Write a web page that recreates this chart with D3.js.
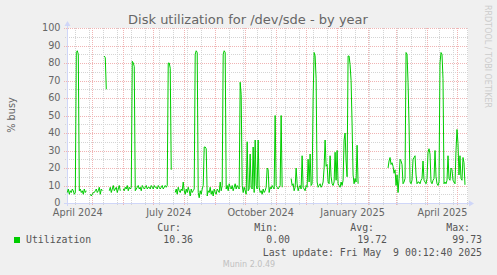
<!DOCTYPE html>
<html>
<head>
<meta charset="utf-8">
<script src="https://cdnjs.cloudflare.com/ajax/libs/d3/7.8.5/d3.min.js"></script>
<style>
html, body { margin: 0; padding: 0; background: #f0f0f0; }
svg { display: block; font-family: "DejaVu Sans", sans-serif; }
.mono { font-family: "DejaVu Sans Mono", monospace; white-space: pre; }
</style>
</head>
<body>
<svg width="497" height="275"></svg>
<script>
(function() {

var title = "Disk utilization for /dev/sde - by year";
var yLabel = "% busy";
var seriesName = "Utilization";
var legendHeads = ["Cur:", "Min:", "Avg:", "Max:"];
var legendValues = ["10.36", "0.00", "19.72", "99.73"];
var lastUpdate = "Last update: Fri May  9 00:12:40 2025";
var footer = "Munin 2.0.49";
var watermark = "RRDTOOL / TOBI OETIKER";

var yTicks = [0, 10, 20, 30, 40, 50, 60, 70, 80, 90, 100];
var labelMonths = ["2024-04", "2024-07", "2024-10", "2025-01", "2025-04"];

// one value per day, first day 2024-04-06, null = no data
var firstDay = "2024-04-06";
var busy = [
  6, 8, 5, 7, 6, 8, 7, 5, 6, 86, 87, 85, 7, 8, 6, 7, 5, 8, 6, 7,
  null, null, null,
  5, 4, 5, 6, 6, 7, 8, 6, 7, 9, 5, 8, 7,
  null, 84, 83, 65, null, null,
  7, 9, 6, 8, 10, 7, 8, 9, 6, 8, 10, 7,
  null, null,
  8, 7, 9, 8, 10, 7, 9, 8, 9, 81, 80, 78,
  7, 8, 9, 10, 8, 9, 7, 10, 9, 8, 9, 10, 8, 9, 9, 8, 10, 9, 8, 10,
  9, 9, 8, 10, 9, 8, 9, 10, 8, 9, 10, 9, 10,
  80, 80, 77, 19,
  null, null, null,
  6, 8, 5, 9, 7, 6, 8, 7, 12, 7, 5, 8, 6, 9, 7, 4, 8, 6, 7, 8,
  85, 87, 86, 6, 3, 7, 5, 8, 10, 32, 32, 31,
  4, 7, 6, 9, 5, 7, 4, 8, 6, 5, 8, 7, 6, 12, 7, 10,
  85, 87, 86, 8, 10, 7, 11, 9, 8, 10, 7, 9, 11, 8, 10, 9, 8,
  69, 62, 10,
  6, 9, 7, 5, 35, 7, 8, 28, 9, 8, 32, 6, 36, 10, 8, 36, 9, 6,
  7, 5, 8, 6, 7, 9, 20, 19, 6, 9, 8, 10, 9, 8, 50, 10, 9, 8, 9, 10, 50, 9,
  null, null, null, null, null, null, null, null,
  14, 10, 11, 7, 9, 20, 11, 7, 9, 10, 8, 27, 9, 8, 7, 10, 9, 25, 12, 28, 10, 11,
  60, 86, 84, 71, 12,
  9, 10, 11, 9, 10, 12, 20, 36, 21, 22, 12, 11,
  27, 15, 11, 10, 12, 29, 13, 30, 11, 10, 9, 12, 10, 13,
  36, 40, 24, 15, 84, 84, 79, 70, 45, 16,
  11, 14, 12, 33, 11,
  null, null, null, null, null, null, null, null, null, null,
  null, null, null, null, null, null, null, null, null, null,
  null, null, null, null, null, null, null, null, null,
  20, 24, 26, 22, 23, 21, 17, 19, 10, 16,
  6, 14, 25, 24, 22, 11, 12, 14, 86, 85,
  69, 45, 12, 11, 13, 25, 26, 27, 16, 11,
  12, 12, 11, 13, 14, 24, 13, 12, 11, 14,
  29, 31, 28, 12, 11, 13, 14, 30, 15, 11,
  10, 12, 80, 86, 85, 71, 11, 12, 11, 13,
  27, 14, 13, 20, 19, 13, 12, 11, 30, 42,
  34, 16, 27, 14, 13, 26, 23, 10.36
];

var svg = d3.select("svg"),
    left = 67, right = 468, top = 28, bottom = 203;

var parseDay = d3.utcParse("%Y-%m-%d"),
    parseMonth = d3.utcParse("%Y-%m"),
    start = parseDay(firstDay);

var data = busy.map(function(v, i) {
  return {date: d3.utcDay.offset(start, i), value: v};
});

// 1 px per day, May 2024 .. May 2025
var x = d3.scaleUtc()
  .domain([Date.UTC(2024, 4, 1), Date.UTC(2025, 4, 1)])
  .range([92.3, 457]);

var y = d3.scaleLinear()
  .domain([0, 100])
  .range([bottom, top]);

svg.append("rect")
  .attr("width", 497).attr("height", 275)
  .attr("fill", "#f0f0f0");

svg.append("rect")
  .attr("x", left).attr("y", top)
  .attr("width", right - left).attr("height", bottom - top)
  .attr("fill", "#ffffff");

var grid = svg.append("g")
  .attr("shape-rendering", "crispEdges")
  .attr("stroke-dasharray", "1,1");

var tStart = x.invert(left), tEnd = x.invert(right);
var refSunday = Date.UTC(2025, 0, 5);
var minorX = d3.utcSunday.range(tStart, tEnd).filter(function(d) {
  var n = d3.utcDay.count(refSunday, d);
  return ((n % 14) + 14) % 14 == 0;
});
var majorX = d3.utcMonth.range(tStart, tEnd);

var minorColor = "#d4d4d4", majorColor = "#f0b4b4";

grid.selectAll(".xminor")
  .data(minorX)
  .enter().append("line")
  .attr("x1", function(d) { return Math.round(x(d)) + 0.5; })
  .attr("x2", function(d) { return Math.round(x(d)) + 0.5; })
  .attr("y1", top).attr("y2", bottom + 2)
  .attr("stroke", minorColor);

grid.selectAll(".yminor")
  .data(y.ticks(20).filter(function(d) { return d % 10 != 0; }))
  .enter().append("line")
  .attr("x1", left - 2).attr("x2", right)
  .attr("y1", function(d) { return Math.round(y(d)) + 0.5; })
  .attr("y2", function(d) { return Math.round(y(d)) + 0.5; })
  .attr("stroke", minorColor);

grid.selectAll(".xmajor")
  .data(majorX)
  .enter().append("line")
  .attr("x1", function(d) { return Math.round(x(d)) + 0.5; })
  .attr("x2", function(d) { return Math.round(x(d)) + 0.5; })
  .attr("y1", top).attr("y2", bottom + 3)
  .attr("stroke", majorColor);

grid.selectAll(".ymajor")
  .data(yTicks.filter(function(d) { return d > 0; }))
  .enter().append("line")
  .attr("x1", left - 3).attr("x2", right)
  .attr("y1", function(d) { return Math.round(y(d)) + 0.5; })
  .attr("y2", function(d) { return Math.round(y(d)) + 0.5; })
  .attr("stroke", majorColor);

// axes with arrows
var axisColor = "#cfd6f8";
svg.append("line")
  .attr("x1", left - 3).attr("x2", right + 1)
  .attr("y1", bottom + 0.5).attr("y2", bottom + 0.5)
  .attr("stroke", axisColor).attr("shape-rendering", "crispEdges");
svg.append("line")
  .attr("x1", left + 0.5).attr("x2", left + 0.5)
  .attr("y1", bottom + 3).attr("y2", top - 2)
  .attr("stroke", axisColor).attr("shape-rendering", "crispEdges");
svg.append("path")
  .attr("d", "M" + (right + 1) + "," + (bottom - 2.5) + "L" + (right + 6) + "," + (bottom + 0.5) + "L" + (right + 1) + "," + (bottom + 3.5) + "Z")
  .attr("fill", axisColor);
svg.append("path")
  .attr("d", "M" + (left - 2.5) + "," + (top - 2) + "L" + (left + 0.5) + "," + (top - 7) + "L" + (left + 3.5) + "," + (top - 2) + "Z")
  .attr("fill", axisColor);

var line = d3.line()
  .defined(function(d) { return d.value != null; })
  .x(function(d) { return x(d.date); })
  .y(function(d) { return y(d.value); });

svg.append("path")
  .datum(data)
  .attr("fill", "none")
  .attr("stroke", "#00cc00")
  .attr("stroke-width", 1)
  .attr("d", line);

// tick labels
svg.selectAll(".ylab")
  .data(yTicks)
  .enter().append("text")
  .attr("x", 60.5)
  .attr("y", function(d) { return y(d) + 3.4; })
  .attr("text-anchor", "end")
  .attr("font-size", "9.7px")
  .attr("fill", "#666666")
  .text(function(d) { return d; });

svg.selectAll(".xlab")
  .data(labelMonths)
  .enter().append("text")
  .attr("x", function(d) {
    var m = parseMonth(d);
    return x(new Date(+m + 15.5 * 864e5));
  })
  .attr("y", 216)
  .attr("text-anchor", "middle")
  .attr("font-size", "9.7px")
  .attr("fill", "#666666")
  .text(function(d) { return d3.utcFormat("%B %Y")(parseMonth(d)); });

svg.append("text")
  .attr("x", 248).attr("y", 24)
  .attr("text-anchor", "middle")
  .attr("font-size", "13px")
  .attr("fill", "#666666")
  .text(title);

svg.append("text")
  .attr("transform", "translate(15,115) rotate(-90)")
  .attr("text-anchor", "middle")
  .attr("font-size", "9.7px")
  .attr("fill", "#666666")
  .text(yLabel);

svg.append("text")
  .attr("transform", "translate(485,5) rotate(90)")
  .attr("font-size", "8px")
  .attr("fill", "#cccccc")
  .text(watermark);

// legend
svg.append("rect")
  .attr("x", 14).attr("y", 237)
  .attr("width", 6).attr("height", 6)
  .attr("fill", "#00cc00");

var legend = svg.append("g")
  .attr("class", "mono")
  .attr("font-size", "9.85px")
  .attr("fill", "#555555");

legend.append("text")
  .attr("x", 26).attr("y", 243)
  .text(seriesName);

var headX = [181, 278, 374, 470],
    valX = [193, 290, 387, 482];

legend.selectAll(".head")
  .data(legendHeads)
  .enter().append("text")
  .attr("x", function(d, i) { return headX[i]; })
  .attr("y", 231)
  .attr("text-anchor", "end")
  .text(function(d) { return d; });

legend.selectAll(".val")
  .data(legendValues)
  .enter().append("text")
  .attr("x", function(d, i) { return valX[i]; })
  .attr("y", 243)
  .attr("text-anchor", "end")
  .text(function(d) { return d; });

legend.append("text")
  .attr("x", 482).attr("y", 256)
  .attr("text-anchor", "end")
  .attr("xml:space", "preserve")
  .style("white-space", "pre")
  .text(lastUpdate);

svg.append("text")
  .attr("x", 249).attr("y", 267)
  .attr("text-anchor", "middle")
  .attr("font-size", "8px")
  .attr("fill", "#c0c0c0")
  .text(footer);

})();
</script>
</body>
</html>
